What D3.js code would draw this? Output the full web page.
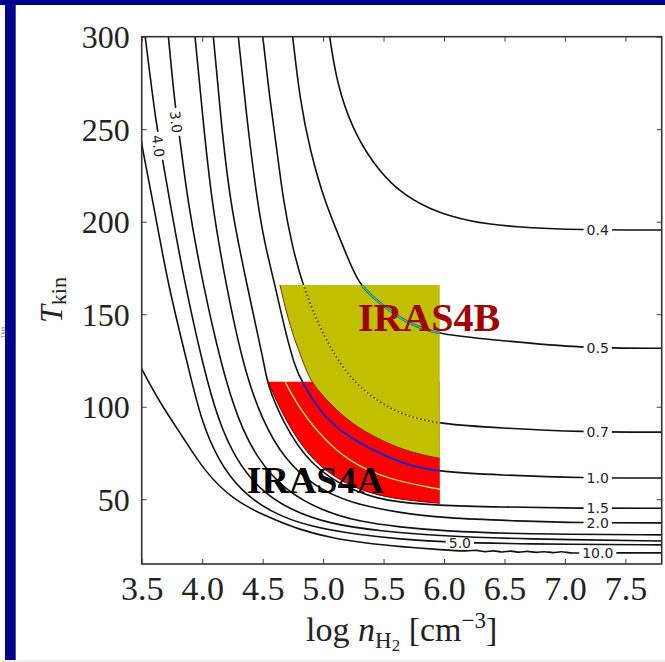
<!DOCTYPE html>
<html><head><meta charset="utf-8">
<script src="https://cdn.jsdelivr.net/npm/d3@7"></script>
<style>
html,body{margin:0;padding:0;background:#fff;overflow:hidden;}
svg{display:block;}
</style></head>
<body><svg id="chart" width="665" height="662"></svg>
<script>
// ---------- data ----------
const xTicks = [3.5, 4.0, 4.5, 5.0, 5.5, 6.0, 6.5, 7.0, 7.5];
const yTicks = [50, 100, 150, 200, 250, 300];
const levels = ["0.4", "0.5", "0.7", "1.0", "1.5", "2.0", "3.0", "4.0", "5.0", "10.0"];

// contour lines: [log n(H2), T_kin]
const c04 = [[5.050,302],[5.112,274.8],[5.246,249.6],[5.411,231.7],[5.607,217.1],[5.883,206.3],[6.213,200.0],[6.569,197.1],[7.147,195.5],[7.85,195.5]];
const c05 = [[4.745,302],[4.808,265.8],[4.891,238.8],[5.015,210.1],[5.180,184.7],[5.288,166.3],[5.469,155.9],[5.690,145.1],[5.965,138.8],[6.434,136.1],[7.122,131.6],[7.85,131.6]];
const c07 = [[4.498,302],[4.560,265.8],[4.618,238.8],[4.670,211.7],[4.742,187.4],[4.833,165.0],[5.001,138.0],[5.222,114.5],[5.470,101.9],[5.690,94.7],[5.965,90.7],[6.461,88.5],[7.122,86.3],[7.85,86.3]];
const c10 = [[4.296,302],[4.370,255.0],[4.453,212.0],[4.519,187.4],[4.602,165.8],[4.684,141.5],[4.767,121.6],[4.825,113.4],[5.001,94.5],[5.222,83.1],[5.470,74.8],[5.690,68.5],[5.951,64.9],[6.461,63.1],[7.122,61.5],[7.85,61.5]];
const c15 = [[4.090,302],[4.155,255.0],[4.230,210.1],[4.370,165.8],[4.519,121.6],[4.536,112.8],[4.668,91.2],[4.899,68.0],[5.214,55.3],[5.519,48.8],[5.949,46.6],[6.461,45.8],[7.122,45.1],[7.85,45.1]];
const c20 = [[3.938,302],[4.007,255.0],[4.079,210.1],[4.197,165.8],[4.340,121.6],[4.494,92.8],[4.684,71.2],[4.933,56.6],[5.222,48.0],[5.635,42.6],[5.990,39.9],[6.627,38.2],[7.122,37.3],[7.85,37.2]];
const c30 = [[3.718,302],[3.775,262.5],[3.817,244.7],[3.879,211.2],[4.007,165.8],[4.161,121.6],[4.296,92.8],[4.461,71.2],[4.684,55.0],[4.974,44.2],[5.304,37.7],[5.635,35.0],[5.990,32.8],[6.627,31.2],[7.85,30.7]];
const c40 = [[3.525,302],[3.624,250.1],[3.679,231.7],[3.734,210.1],[3.858,165.8],[4.009,121.6],[4.131,92.8],[4.279,71.2],[4.478,55.0],[4.726,44.2],[5.056,36.6],[5.469,32.8],[5.990,30.1],[6.627,28.5],[7.85,27.4]];
const c50 = [[3.48,252],[3.5,240.9],[3.596,210.1],[3.717,165.8],[3.885,121.6],[3.990,92.8],[4.131,71.2],[4.312,55.0],[4.560,43.1],[4.891,35.0],[5.304,30.7],[5.635,28.5],[5.990,26.9],[6.627,25.8],[7.85,25.3]];
const c100 = [[3.48,123],[3.5,120.4],[3.651,102.0],[3.841,83.6],[4.023,64.7],[4.257,49.6],[4.533,40.6],[4.808,33.4],[5.083,28.9],[5.360,26.2],[5.635,24.4],[5.993,22.6],[6.20,21.8],[6.27,22.8],[6.34,21.2],[6.41,22.6],[6.48,21.0],[6.55,22.5],[6.62,20.9],[6.69,22.3],[6.76,20.8],[6.83,22.1],[6.90,20.7],[6.97,22.0],[7.04,20.8],[7.122,21.0],[7.85,21.0]];
const contours = [c04, c05, c07, c10, c15, c20, c30, c40, c50, c100];

// inline contour labels
const labelLogN = [7.271, 7.271, 7.271, 7.271, 7.271, 7.271, 3.784, 3.637, 6.131, 7.271];
const labelT    = [195.5, 131.6, 86.3, 61.5, 45.1, 37.3, 253.9, 240.9, 26.4, 21.0];
const labelAngle = [0, 0, 0, 0, 0, 0, 83, 82, 0, 0];

// shaded regions
const regionRight = 5.965;
const redTop = 113.5;
const redEdge = [[4.546,113.5],[4.684,92.8],[4.918,69.4],[5.222,56.8],[5.525,50.5],[5.965,47.8]];
const yellowTop = 165.8;
const yellowEdge = [[4.643,165.8],[4.700,150.0],[4.760,137.0],[4.830,125.0],[4.891,114.5],[5.001,105.4],[5.194,92.8],[5.414,83.8],[5.690,75.7],[5.965,72.1]];
const iras4aLine = [[4.686,113.5],[4.767,103.6],[4.864,93.9],[5.015,82.0],[5.222,70.1],[5.525,60.9],[5.951,55.5],[5.99,55.3]];

const annText = ["IRAS4A", "IRAS4B"];
const annLogN = [4.368, 5.288];
const annT    = [53.4, 140.9];

// ---------- drawing ----------
const svg = d3.select("#chart");
const x = d3.scaleLinear().domain([3.5, 7.8]).range([141.7, 661.7]);
const y = d3.scaleLinear().domain([15, 300]).range([564, 36.7]);
const line = d3.line().x(d => x(d[0])).y(d => y(d[1])).curve(d3.curveBasis);
const serif = "'Liberation Serif', 'Times New Roman', serif";

svg.append("rect").attr("width", 665).attr("height", 662).attr("fill", "#fff");

const redPath = line(redEdge) + `L${x(regionRight)},${y(redTop)}Z`;
const yellowPath = line(yellowEdge) + `L${x(regionRight)},${y(yellowTop)}Z`;

const defs = svg.append("defs");
defs.append("clipPath").attr("id", "plotClip").append("rect")
  .attr("x", x(3.5)).attr("y", y(300)).attr("width", x(7.8) - x(3.5)).attr("height", y(15) - y(300));
defs.append("clipPath").attr("id", "redClip").append("path").attr("d", redPath);
defs.append("clipPath").attr("id", "yellowClip").append("path").attr("d", yellowPath);

const plot = svg.append("g").attr("clip-path", "url(#plotClip)");

// contour lines
plot.selectAll("path.contour").data(contours).join("path")
  .attr("class", "contour").attr("d", line)
  .attr("fill", "none").attr("stroke", "#111").attr("stroke-width", 1.6);

// contour labels (with a gap in the line)
levels.forEach((lv, i) => {
  const g = plot.append("g")
    .attr("transform", `translate(${x(labelLogN[i])},${y(labelT[i])}) rotate(${labelAngle[i]})`);
  const t = g.append("text").text(lv)
    .attr("text-anchor", "middle").attr("dy", "0.36em")
    .style("font-family", "'DejaVu Sans', sans-serif").style("font-size", "14px").attr("fill", "#222");
  const bb = t.node().getBBox();
  g.insert("rect", "text").attr("x", bb.x - 3).attr("width", bb.width + 6)
    .attr("y", -4).attr("height", 8).attr("fill", "#fff");
});

// shaded regions
plot.append("path").attr("d", redPath).attr("fill", "#ff0000");
plot.append("path").attr("d", line(redEdge)).attr("fill", "none").attr("stroke", "#7a0000").attr("stroke-width", 1);
plot.append("path").attr("d", yellowPath).attr("fill", "#c0c000");
plot.append("path").attr("d", line(yellowEdge)).attr("fill", "none").attr("stroke", "#8a2a00").attr("stroke-width", 1);

// highlighted lines inside regions
plot.append("path").attr("d", line(iras4aLine)).attr("clip-path", "url(#redClip)")
  .attr("fill", "none").attr("stroke", "#a8d878").attr("stroke-width", 1.5);
plot.append("path").attr("d", line(c10)).attr("clip-path", "url(#redClip)")
  .attr("fill", "none").attr("stroke", "#2323b5").attr("stroke-width", 2);
plot.append("path").attr("d", line(c05)).attr("clip-path", "url(#yellowClip)")
  .attr("fill", "none").attr("stroke", "#1a5050").attr("stroke-width", 2.4);
plot.append("path").attr("d", line(c05)).attr("clip-path", "url(#yellowClip)")
  .attr("fill", "none").attr("stroke", "#2cc4cc").attr("stroke-width", 1.4);
plot.append("path").attr("d", line(c07)).attr("clip-path", "url(#yellowClip)")
  .attr("fill", "none").attr("stroke", "#555510").attr("stroke-width", 1.7);
plot.append("path").attr("d", line(c07)).attr("clip-path", "url(#yellowClip)")
  .attr("fill", "none").attr("stroke", "#ffe600").attr("stroke-width", 1.7).attr("stroke-dasharray", "2,2");

// annotations
svg.selectAll("text.ann").data(annText).join("text").attr("class", "ann")
  .attr("x", (d, i) => x(annLogN[i])).attr("y", (d, i) => y(annT[i]))
  .text(d => d)
  .style("font-family", serif).style("font-weight", "bold")
  .style("font-size", (d, i) => i === 0 ? "38px" : "40px")
  .attr("fill", (d, i) => i === 0 ? "#000" : "#a00000");

// axes
function styleAxis(g) {
  g.select(".domain").remove();
  g.selectAll(".tick line").attr("stroke", "#444").attr("stroke-width", 1);
}
const axB = svg.append("g").attr("transform", `translate(0,${y(15)})`)
  .call(d3.axisBottom(x).tickValues(xTicks).tickSizeInner(-5).tickSizeOuter(0).tickFormat(d3.format(".1f")));
styleAxis(axB);
axB.selectAll("text").attr("y", 36).attr("dy", "0")
  .style("font-family", serif).style("font-size", "34px").attr("fill", "#222");

const axT = svg.append("g").attr("transform", `translate(0,${y(300)})`)
  .call(d3.axisTop(x).tickValues(xTicks).tickSizeInner(-5).tickSizeOuter(0).tickFormat(""));
styleAxis(axT);

const axL = svg.append("g").attr("transform", `translate(${x(3.5)},0)`)
  .call(d3.axisLeft(y).tickValues(yTicks).tickSizeInner(-5).tickSizeOuter(0).tickPadding(12));
styleAxis(axL);
axL.selectAll("text").attr("dy", "0.34em")
  .style("font-family", serif).style("font-size", "32px").attr("fill", "#222");

const axR = svg.append("g").attr("transform", `translate(${x(7.8)},0)`)
  .call(d3.axisRight(y).tickValues(yTicks).tickSizeInner(-5).tickSizeOuter(0).tickFormat(""));
styleAxis(axR);

svg.append("rect").attr("x", x(3.5)).attr("y", y(300))
  .attr("width", x(7.8) - x(3.5)).attr("height", y(15) - y(300))
  .attr("fill", "none").attr("stroke", "#333").attr("stroke-width", 1.6);

// axis titles
const xt = svg.append("text").attr("x", (x(3.5) + x(7.8)) / 2).attr("y", 641)
  .attr("text-anchor", "middle").style("font-family", serif).style("font-size", "34px").attr("fill", "#222");
xt.append("tspan").text("log ");
xt.append("tspan").text("n").style("font-style", "italic");
xt.append("tspan").text("H").style("font-size", "23px").attr("dy", 7);
xt.append("tspan").text("2").style("font-size", "17px").attr("dy", 3);
xt.append("tspan").text(" [cm").attr("dy", -10);
xt.append("tspan").text("\u22123").style("font-size", "23px").attr("dy", -13);
xt.append("tspan").text("]").attr("dy", 13);

const yt = svg.append("text").attr("transform", "translate(62,300) rotate(-90)")
  .attr("text-anchor", "middle").style("font-family", serif).attr("fill", "#222");
yt.append("tspan").text("T").style("font-style", "italic").style("font-size", "32px");
yt.append("tspan").text("kin").style("font-size", "22px").attr("dy", 4);

// slide frame
svg.append("rect").attr("x", 0).attr("y", 0).attr("width", 665).attr("height", 5).attr("fill", "#00008e");
svg.append("rect").attr("x", 5).attr("y", 0).attr("width", 10.7).attr("height", 662).attr("fill", "#00008e");
svg.append("rect").attr("x", 0).attr("y", 660).attr("width", 665).attr("height", 2).attr("fill", "#eeeeee");
svg.append("text").attr("transform", "translate(5,338) rotate(-90)")
  .text("Tkin").style("font-family", serif).style("font-size", "6px").attr("fill", "#666");
</script>
</body></html>
